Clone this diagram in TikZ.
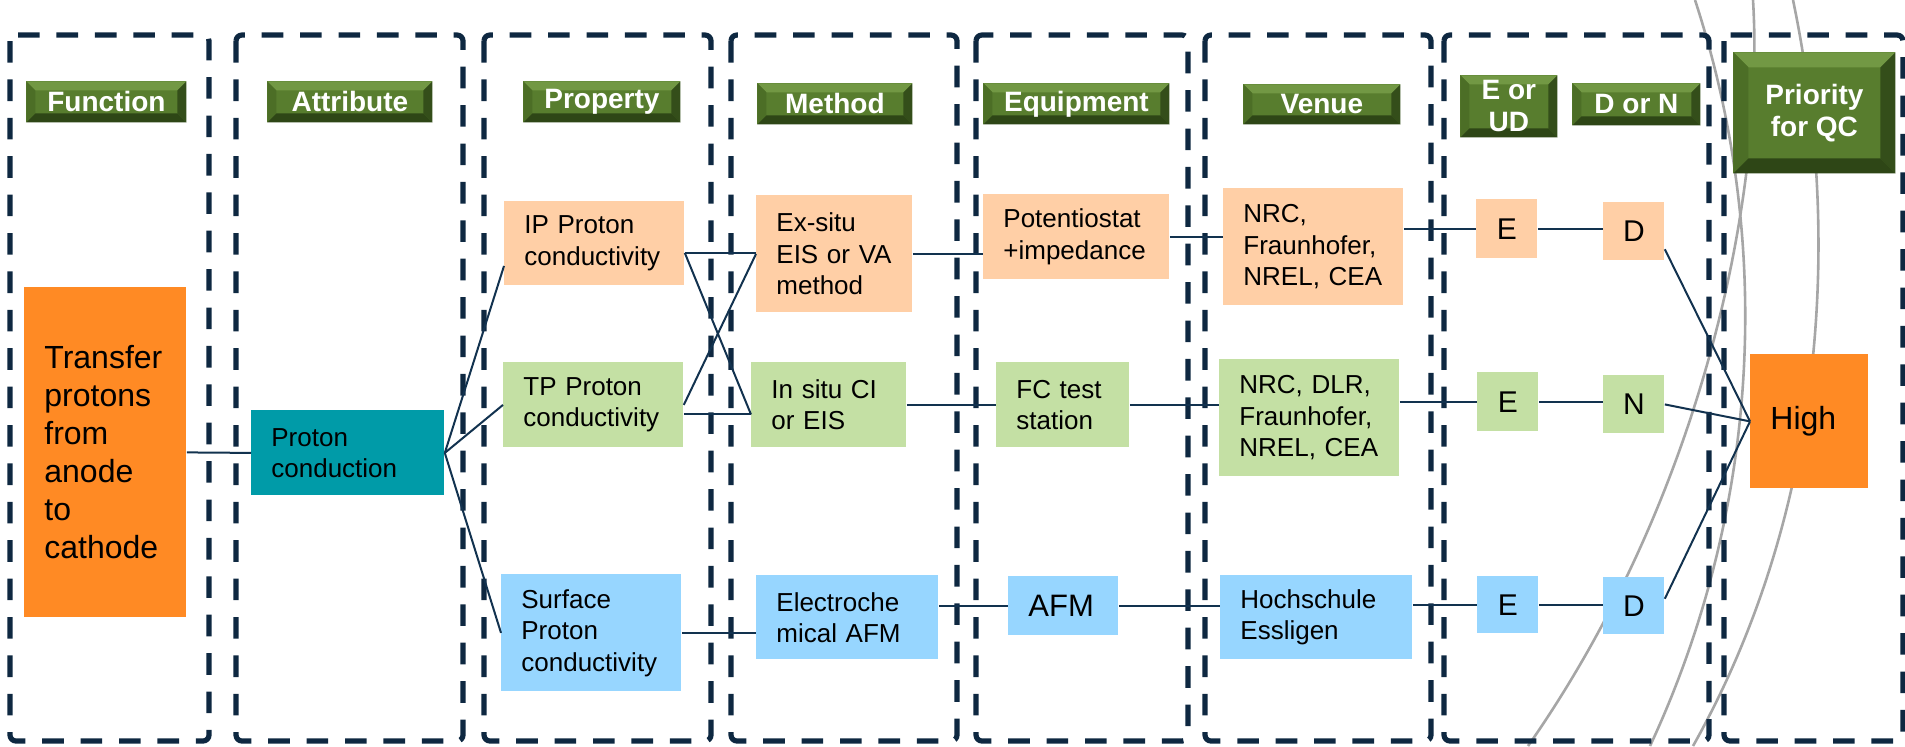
\documentclass[tikz,border=0pt]{standalone}
\usepackage{fontspec}
\setmainfont{Liberation Sans}
\usepackage{tikz}
\definecolor{navy}{HTML}{0E2841}
\definecolor{wire}{HTML}{12324F}
\definecolor{arcgray}{HTML}{A6A6A6}
\definecolor{hot}{RGB}{255,138,36}
\definecolor{teal}{RGB}{0,155,168}
\definecolor{peach}{RGB}{255,207,166}
\definecolor{leaf}{RGB}{196,224,164}
\definecolor{sky}{RGB}{151,214,255}
\definecolor{hdrface}{RGB}{88,125,46}
\definecolor{hdrtop}{RGB}{114,152,68}
\definecolor{hdrleft}{RGB}{76,110,38}
\definecolor{hdrright}{RGB}{52,78,26}
\definecolor{hdrbottom}{RGB}{46,70,22}
\tikzset{
  column/.style={draw=navy,line width=2.6pt,dash pattern=on 10.8pt off 8.4pt,rounded corners=3pt},
  link/.style={draw=wire,line width=1pt},
  arc line/.style={draw=arcgray,line width=1.3pt},
  cell/.style={rectangle,anchor=north west,inner xsep=10pt,inner ysep=0pt,align=left,font=\fontsize{13}{15.7}\selectfont},
  letter/.style={rectangle,anchor=north west,inner sep=0pt,minimum width=30.5pt,align=center,font=\fontsize{15}{18}\selectfont},
  bevel/.store in=\bevsize, bevel=4.5pt,
  header/.style={rectangle,anchor=north west,inner sep=0pt,align=center,fill=hdrface,text=white,
    font=\fontsize{14}{16}\selectfont\bfseries,
    path picture={
      \path (path picture bounding box.north west) coordinate (nw)
            (path picture bounding box.north east) coordinate (ne)
            (path picture bounding box.south east) coordinate (se)
            (path picture bounding box.south west) coordinate (sw);
      \fill[hdrtop] (nw) -- (ne) -- ([shift={(-\bevsize,-\bevsize)}]ne) -- ([shift={(\bevsize,-\bevsize)}]nw) -- cycle;
      \fill[hdrleft] (nw) -- ([shift={(\bevsize,-\bevsize)}]nw) -- ([shift={(\bevsize,\bevsize)}]sw) -- (sw) -- cycle;
      \fill[hdrright] (ne) -- (se) -- ([shift={(-\bevsize,\bevsize)}]se) -- ([shift={(-\bevsize,-\bevsize)}]ne) -- cycle;
      \fill[hdrbottom] (sw) -- ([shift={(\bevsize,\bevsize)}]sw) -- ([shift={(-\bevsize,\bevsize)}]se) -- (se) -- cycle;
    }}
}
\begin{document}
\begin{tikzpicture}[x=0.5pt,y=-0.5pt]
\useasboundingbox (0,0) rectangle (1905,746);

% grey arcs in the background
\draw[arc line] (1695,0) .. controls (1775,245) and (1759,512) .. (1650,746);
\draw[arc line] (1753,0) .. controls (1765,200) and (1700,500) .. (1528,746);
\draw[arc line] (1793,0) .. controls (1845,250) and (1820,520) .. (1693,746);

% dashed columns
\foreach \l/\r in {10/209,236/463,484/711,731/957,976/1188,1205/1431,1444/1709,1724/1903}
  \draw[column] (\l,35) rectangle (\r,741);

% headers
\node[header,minimum width=80pt,minimum height=20.5pt] (hfun) at (26,81) {Function};
\node[header,minimum width=82.5pt,minimum height=20.5pt] (hattr) at (267,81) {Attribute};
\node[header,minimum width=78.5pt,minimum height=20.5pt] (hprop) at (523,81) {Property};
\node[header,minimum width=77.5pt,minimum height=20.5pt] (hmeth) at (757,83) {Method};
\node[header,minimum width=93pt,minimum height=20.5pt] (hequip) at (983,83) {Equipment};
\node[header,minimum width=78.5pt,minimum height=20pt] (hvenue) at (1243,84) {Venue};
\node[header,minimum width=48.5pt,minimum height=31pt] (heud) at (1460,75) {E or\\UD};
\node[header,minimum width=64pt,minimum height=21pt] (hdn) at (1572,83) {D or N};
\node[header,bevel=7.5pt,minimum width=81pt,minimum height=60.5pt] (hprio) at (1733,52) {Priority\\for QC};

% function and attribute
\node[cell,fill=hot,font=\fontsize{16}{19}\selectfont,text width=61pt,minimum width=81pt,minimum height=165pt] (fun) at (24,287)
  {Transfer\\protons\\from\\anode\\to\\cathode};
\node[cell,fill=teal,text width=76.5pt,minimum width=96.5pt,minimum height=42.5pt] (attr) at (251,410) {Proton\\conduction};

% properties
\node[cell,fill=peach,text width=70pt,minimum width=90pt,minimum height=42pt] (ip) at (504,201) {IP Proton\\conductivity};
\node[cell,fill=leaf,text width=70pt,minimum width=90pt,minimum height=42.5pt] (tp) at (503,362) {TP Proton\\conductivity};
\node[cell,fill=sky,text width=70pt,minimum width=90pt,minimum height=58.5pt] (surf) at (501,574) {Surface\\Proton\\conductivity};

% methods
\node[cell,fill=peach,text width=58pt,minimum width=78pt,minimum height=58.5pt] (exsitu) at (756,195) {Ex-situ\\EIS~or~VA\\method};
\node[cell,fill=leaf,text width=57.5pt,minimum width=77.5pt,minimum height=42.5pt] (insitu) at (751,362) {In~situ~CI\\or EIS};
\node[cell,fill=sky,text width=71pt,minimum width=91pt,minimum height=42pt] (echem) at (756,575) {Electroche\\mical AFM};

% equipment
\node[cell,fill=peach,text width=73pt,minimum width=93pt,minimum height=42.5pt] (pot) at (983,194) {Potentiostat\\+impedance};
\node[cell,fill=leaf,text width=46.5pt,minimum width=66.5pt,minimum height=42.5pt] (fc) at (996,362) {FC~test\\station};
\node[cell,fill=sky,font=\fontsize{15.5}{18}\selectfont,text width=35pt,minimum width=55pt,minimum height=29.5pt] (afm) at (1008,576) {AFM};

% venues
\node[cell,fill=peach,text width=70pt,minimum width=90pt,minimum height=58.5pt] (v1) at (1223,188) {NRC,\\Fraunhofer,\\NREL, CEA};
\node[cell,fill=leaf,text width=70pt,minimum width=90pt,minimum height=58.5pt] (v2) at (1219,359) {NRC, DLR,\\Fraunhofer,\\NREL, CEA};
\node[cell,fill=sky,text width=76pt,minimum width=96pt,minimum height=42pt] (v3) at (1220,575) {Hochschule\\Essligen};

% E/UD and D/N
\node[letter,fill=peach,minimum height=29.5pt] (e1) at (1476,199) {E};
\node[letter,fill=peach,minimum height=29pt] (d1) at (1603,202) {D};
\node[letter,fill=leaf,minimum height=29.5pt] (e2) at (1477,372) {E};
\node[letter,fill=leaf,minimum height=29pt] (n2) at (1603,375) {N};
\node[letter,fill=sky,minimum height=28.5pt] (e3) at (1477,576) {E};
\node[letter,fill=sky,minimum height=28.5pt] (d3) at (1603,577) {D};

% priority
\node[cell,fill=hot,font=\fontsize{16}{19}\selectfont,text width=39pt,minimum width=59pt,minimum height=67pt] (high) at (1750,354) {High};

% connectors
\draw[link] (fun.east) -- (attr.west);
\draw[link] (attr.east) -- (ip.194);
\draw[link] (attr.east) -- (tp.west);
\draw[link] (attr.east) -- (surf.west);
\draw[link] (ip.-6) -- (ip.-6 -| exsitu.west);
\draw[link] (ip.-6) -- (insitu.187);
\draw[link] (tp.east) -- (exsitu.west);
\draw[link] (insitu.187 -| tp.east) -- (insitu.187);
\draw[link] (surf.east) -- (surf.east -| echem.west);
\draw[link] (exsitu.east) -- (exsitu.east -| pot.west);
\draw[link] (insitu.east) -- (fc.west);
\draw[link] (echem.east |- afm.west) -- (afm.west);
\draw[link] (pot.east) -- (pot.east -| v1.west);
\draw[link] (fc.east) -- (fc.east -| v2.west);
\draw[link] (afm.east) -- (afm.east -| v3.west);
\draw[link] (v1.east |- e1.west) -- (e1.west);
\draw[link] (v2.east |- e2.west) -- (e2.west);
\draw[link] (v3.east |- e3.west) -- (e3.west);
\draw[link] (e1.east) -- (e1.east -| d1.west);
\draw[link] (e2.east) -- (e2.east -| n2.west);
\draw[link] (e3.east) -- (e3.east -| d3.west);
\draw[link] (d1.-30) -- (high.west);
\draw[link] (n2.east) -- (high.west);
\draw[link] (d3.13) -- (high.west);
\end{tikzpicture}
\end{document}
